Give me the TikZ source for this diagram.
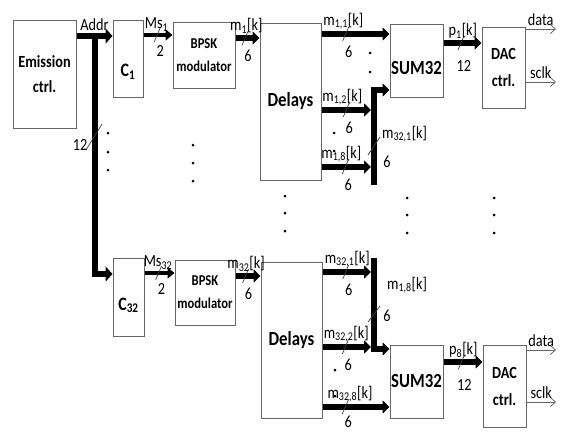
\documentclass[tikz,border=0pt]{standalone}
\usepackage{fontspec}
\setmainfont{Carlito}[FakeStretch=0.84]
\usetikzlibrary{arrows.meta,calc}
\newcommand\sunk[2]{\raisebox{-#1}[0pt][0pt]{#2}}
\tikzset{
 blk/.style={draw=black!60,line width=1pt,align=center,inner sep=1pt},
 bus/.style={line width=5.5pt,-{Triangle[length=7pt,width=13pt]}},
 trunk/.style={line width=6pt,-{Triangle[length=7pt,width=15pt]}},
 msbus/.style={line width=3.5pt,-{Triangle[length=7pt,width=11pt]}},
 wire/.style={draw=black!60,line width=.8pt,-{Straight Barb[length=5pt,width=9pt]}},
 sig/.style={font=\fontsize{17}{19}\selectfont,inner sep=1pt},
 num/.style={sig,anchor=north},
 tickline/.style={line width=.7pt,draw=black!75,-},
 busmark/.pic={\draw[tickline] (-3,7) -- (3,-7); \node[num] (-n) at (3,8) {#1};}
}
\begin{document}
\begin{tikzpicture}[x=1pt,y=-1pt]
\useasboundingbox (0,0) rectangle (563,434);
% upper chain
\node[blk,minimum width=63pt,minimum height=108pt,font=\bfseries\fontsize{17}{25}\selectfont] (emis) at (44.5,74) {Emission\\ctrl.};
\node[blk,minimum width=30pt,minimum height=77pt,font=\bfseries\fontsize{19}{21}\selectfont] (c1) at (128,58.5) {\sunk{18pt}{C\textsubscript{1}}};
\node[blk,minimum width=62pt,minimum height=66pt,font=\bfseries\fontsize{15}{23}\selectfont] (bpsk1) at (204,55) {BPSK\\modulator};
\node[blk,minimum width=61pt,minimum height=157pt,font=\bfseries\fontsize{20}{22}\selectfont] (del1) at (290.5,101.5) {Delays};
\node[blk,minimum width=53pt,minimum height=73pt,font=\bfseries\fontsize{20}{22}\selectfont] (sum1) at (416.5,60.5) {\sunk{14pt}{SUM32}};
\node[blk,minimum width=43pt,minimum height=81pt,font=\bfseries\fontsize{17}{27}\selectfont] (dac1) at (503.5,67.5) {DAC\\ctrl.};
% lower chain
\node[blk,minimum width=31pt,minimum height=78pt,font=\bfseries\fontsize{19}{21}\selectfont] (c32) at (128.5,297) {\sunk{13pt}{C\textsubscript{32}}};
\node[blk,minimum width=60pt,minimum height=65pt,font=\bfseries\fontsize{15}{23}\selectfont] (bpsk32) at (205,292.5) {BPSK\\modulator};
\node[blk,minimum width=61pt,minimum height=156pt,font=\bfseries\fontsize{20}{22}\selectfont] (del32) at (291.5,340) {Delays};
\node[blk,minimum width=53pt,minimum height=73pt,font=\bfseries\fontsize{20}{22}\selectfont] (sum8) at (416.5,381.5) {SUM32};
\node[blk,minimum width=43pt,minimum height=82pt,font=\bfseries\fontsize{17}{27}\selectfont] (dac8) at (504.5,386) {DAC\\ctrl.};

% address bus and trunk to C32
\coordinate (tap) at (95,36);
\draw[trunk] (emis.east |- tap) -- node[sig,above=1pt] (addr) {Addr} (c1.west |- tap);
\draw[trunk] (tap) |- (c32.west |- 0,274);
\draw[tickline] (86,150) -- (102,124);
\node[sig] (w12) at (80,145) {12};

% upper signal path
\draw[msbus] (c1.east |- 0,35) -- pic[pos=.47] (mk1) {busmark=2} node[sig,above=1pt,pos=.45] (ms1) {Ms\textsubscript{1}} (bpsk1.west |- 0,35);
\draw[bus] (bpsk1.east |- 0,38) -- pic[pos=.4] (mk2) {busmark=6} node[sig,above=1pt,pos=.45] (m1) {m\textsubscript{1}[k]} (del1.west |- 0,38);
\coordinate (bar1) at (374,185);
\draw[bus] (del1.east |- 0,34) -- pic[pos=.355] (mk3) {busmark=6} node[sig,above=1pt,pos=.32] (m11) {m\textsubscript{1,1}[k]} (sum1.west |- 0,34);
\draw[bus] (del1.east |- 0,110) -- pic[pos=.5] (mk4) {busmark=6} node[sig,above=1pt,pos=.42] (m12) {m\textsubscript{1,2}[k]} ($(bar1 |- 0,110)+(-3,0)$);
\draw[bus] (del1.east |- 0,167) -- pic[pos=.48] (mk5) {busmark=6} node[sig,above=1pt,pos=.4] (m18) {m\textsubscript{1,8}[k]} ($(bar1 |- 0,167)+(-3,0)$);
\draw[bus] (bar1) |- (sum1.west |- 0,90);
\draw[tickline] (368,155) -- (380,137);
\node[sig,anchor=west] (m321) at (381,134) {m\textsubscript{32,1}[k]};
\node[sig] (w321) at (387,162) {6};
\draw[bus] (sum1.east |- 0,43) -- pic[pos=.46,num/.append style={yshift=-6pt}] (mk6) {busmark=12} node[sig,above=1pt,pos=.51] (p1) {p\textsubscript{1}[k]} (dac1.west |- 0,43);
\coordinate (dout1) at (556,29);
\coordinate (cout1) at (556,82);
\draw[wire] (dac1.east |- dout1) -- node[sig,above=2pt] (data1) {data} (dout1);
\draw[wire] (dac1.east |- cout1) -- node[sig,above=2pt] (sclk1) {sclk} (cout1);

% lower signal path
\draw[msbus] (c32.east |- 0,273) -- pic[pos=.47] (mk7) {busmark=2} node[sig,above=1pt,pos=.45] (ms32) {Ms\textsubscript{32}} (bpsk32.west |- 0,273);
\draw[bus] (bpsk32.east |- 0,276) -- pic[pos=.4] (mk8) {busmark=6} node[sig,above=1pt,pos=.42] (m32) {m\textsubscript{32}[k]} (del32.west |- 0,276);
\coordinate (bar8) at (374,258);
\draw[bus] (del32.east |- 0,272) -- pic[pos=.48] (mk9) {busmark=6} node[sig,above=1pt,pos=.51] (m321b) {m\textsubscript{32,1}[k]} ($(bar8 |- 0,272)+(-3,0)$);
\draw[bus] (del32.east |- 0,347) -- pic[pos=.47] (mk10) {busmark=6} node[sig,above=1pt,pos=.49] (m322) {m\textsubscript{32,2}[k]} ($(bar8 |- 0,347)+(-3,0)$);
\draw[bus] (del32.east |- 0,407) -- pic[pos=.34,num/.append style={yshift=3pt}] (mk11) {busmark=6} node[sig,above=1pt,pos=.41] (m328) {m\textsubscript{32,8}[k]} (sum8.west |- 0,407);
\draw[bus] (bar8) |- (sum8.west |- 0,349);
\draw[tickline] (368,322) -- (380,306);
\node[sig,anchor=west] (m18b) at (386,285) {m\textsubscript{1,8}[k]};
\node[sig] (w18b) at (387,316) {6};
\draw[bus] (sum8.east |- 0,362) -- pic[pos=.46,num/.append style={yshift=-6pt}] (mk12) {busmark=12} node[sig,above=1pt,pos=.51] (p8) {p\textsubscript{8}[k]} (dac8.west |- 0,362);
\coordinate (dout8) at (556,350);
\coordinate (cout8) at (556,402);
\draw[wire] (dac8.east |- dout8) -- node[sig,above=2pt] (data8) {data} (dout8);
\draw[wire] (dac8.east |- cout8) -- node[sig,above=2pt] (sclk8) {sclk} (cout8);

% vertical dots
\foreach \x/\y in {108/133,108/152,108/170,193/145,193/163,193/181,285/196,285/213,285/231,
  407/198,407/215,407/233,494/198,494/215,494/233,370/53,370/72,334/133,334/151,335/370,335/396}
  \fill (\x,\y) circle (1.5pt);
\end{tikzpicture}
\end{document}
